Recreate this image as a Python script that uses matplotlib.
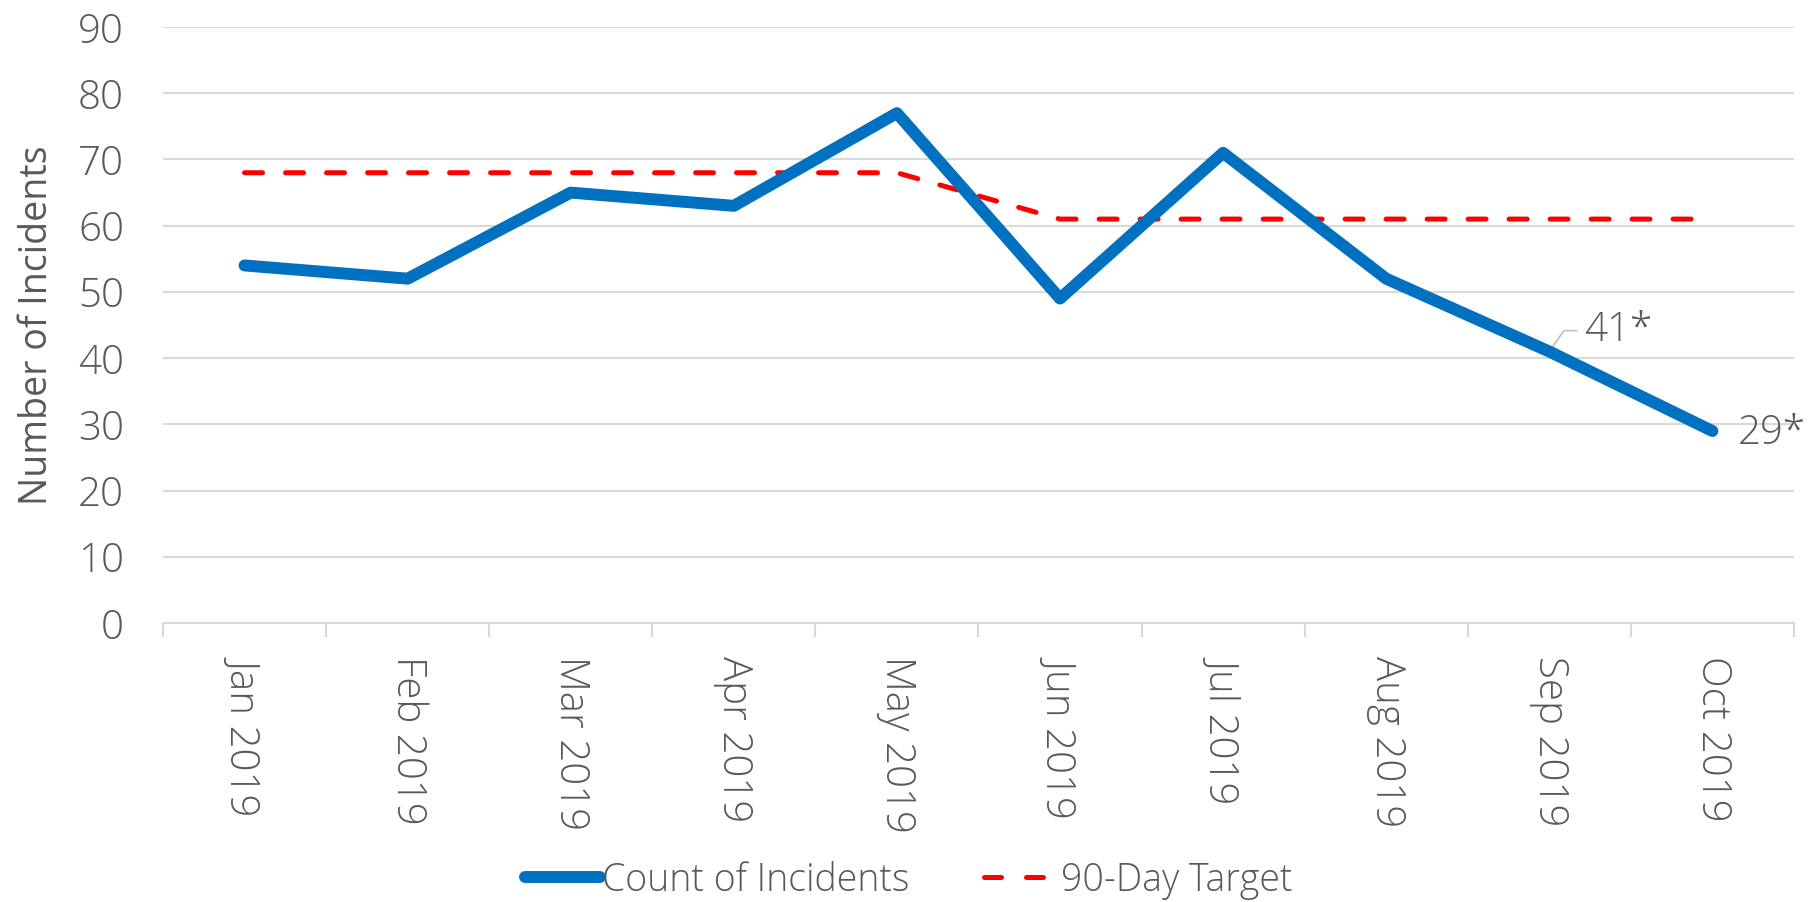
import numpy as np
import matplotlib.pyplot as plt
from matplotlib.lines import Line2D

plt.rcParams['font.family'] = ['Open Sans', 'DejaVu Sans']
plt.rcParams['font.weight'] = 'light'
plt.rcParams['font.size'] = 29

months = ['Jan 2019', 'Feb 2019', 'Mar 2019', 'Apr 2019', 'May 2019',
          'Jun 2019', 'Jul 2019', 'Aug 2019', 'Sep 2019', 'Oct 2019']
incidents = [54, 52, 65, 63, 77, 49, 71, 52, 41, 29]
target = [68, 68, 68, 68, 68, 61, 61, 61, 61, 61]

text_col = '#595959'
grid_col = '#d9d9d9'
blue = '#0070c0'
red = '#ff0000'

fig = plt.figure(figsize=(18.17, 9.02), dpi=100)
ax = fig.add_axes([0.0897, 0.3093, 0.8976, 0.6607])

x = np.arange(len(months))
ax.plot(x, target, color=red, linewidth=3.6, dashes=(3.6, 4.6),
        dash_capstyle='round', solid_joinstyle='round', zorder=3)
ax.plot(x, incidents, color=blue, linewidth=8.6, solid_capstyle='round',
        solid_joinstyle='round', zorder=4)

ax.set_xlim(-0.5, len(months) - 0.5)
ax.set_ylim(0, 90)
ax.set_yticks(range(0, 91, 10))
ax.yaxis.grid(True, color=grid_col, linewidth=1.5)
ax.set_axisbelow(True)

ax.set_xticks(x)
ax.set_xticklabels(months, rotation=-90, va='top', ha='center')
ax.set_xticks(np.arange(-0.5, len(months)), minor=True)
ax.tick_params(axis='x', which='major', length=0, pad=24, colors=text_col)
ax.tick_params(axis='x', which='minor', length=10, width=1.5, color=grid_col)
ax.tick_params(axis='y', length=0, pad=28, colors=text_col)

for s in ['top', 'right', 'left']:
    ax.spines[s].set_visible(False)
ax.spines['bottom'].set_color(grid_col)
ax.spines['bottom'].set_linewidth(1.5)

ax.set_ylabel('Number of Incidents', color=text_col, labelpad=16, fontsize=27)

# data labels
ax.annotate('41*', xy=(x[8], incidents[8]), xytext=(25, 15), textcoords='offset points',
            color=text_col, va='center', ha='left',
            arrowprops=dict(arrowstyle='-', color='#bfbfbf', lw=1.2,
                            connectionstyle='angle,angleA=0,angleB=55,rad=0',
                            shrinkA=3, shrinkB=0))
ax.annotate('29*', xy=(x[9], incidents[9]), xytext=(18, -2), textcoords='offset points',
            color=text_col, va='center', ha='left')

handles = [Line2D([], [], color=blue, linewidth=8.6, solid_capstyle='round'),
           Line2D([], [], color=red, linewidth=3.6, dashes=(3.4, 5.0), dash_capstyle='round')]
leg = fig.legend(handles, ['Count of Incidents', '90-Day Target'], loc='center',
                 bbox_to_anchor=(0.5, 0.024), ncol=2, frameon=False,
                 handlelength=2.0, handletextpad=0.05, columnspacing=2.0,
                 fontsize=27, labelcolor=text_col)

fig.savefig('out.png', dpi=100)
